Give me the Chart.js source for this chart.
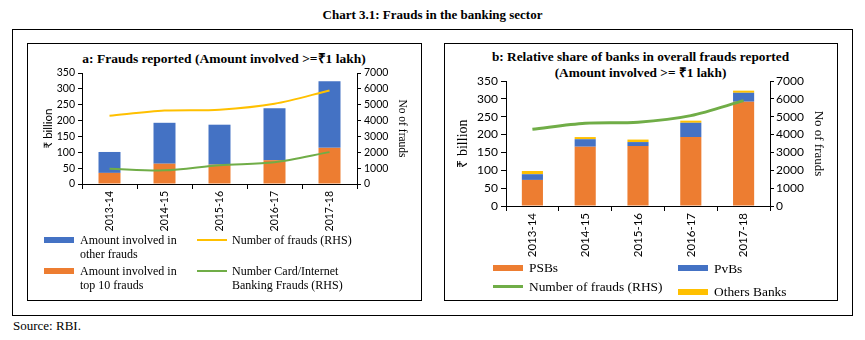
<!DOCTYPE html>
<html>
<head>
<meta charset="utf-8">
<script src="https://cdn.jsdelivr.net/npm/chart.js@4.4.1/dist/chart.umd.min.js"></script>
<style>
  body { margin: 0; width: 865px; height: 340px; background: #fff; position: relative; overflow: hidden;
         font-family: "Liberation Serif", serif; color: #000; }
  .abs { position: absolute; }
  .box { position: absolute; border: 1px solid #000; box-sizing: border-box; }
  .ttl { position: absolute; font-weight: bold; text-align: center; white-space: nowrap; }
  .lg { position: absolute; white-space: nowrap; line-height: 14px; }
  .sw { position: absolute; }
  canvas { position: absolute; }
</style>
</head>
<body>

<div class="ttl" style="left:0;width:865px;top:7px;font-size:13px;">Chart 3.1: Frauds in the banking sector</div>
<div class="box" style="left:12px;top:29px;width:841px;height:287px;"></div>
<div class="box" style="left:27px;top:43px;width:395px;height:258px;"></div>
<div class="box" style="left:444px;top:43px;width:394px;height:258px;"></div>

<div class="ttl" style="left:27px;width:394px;top:49px;font-size:13.5px;">a: Frauds reported (Amount involved &gt;=₹1 lakh)</div>
<div class="ttl" style="left:444px;width:393px;top:49px;font-size:13.3px;line-height:16px;">b: Relative share of banks in overall frauds reported<br>(Amount involved &gt;= ₹1 lakh)</div>

<canvas id="fraudsA" width="394" height="257" style="left:27px;top:43px;"></canvas>
<canvas id="fraudsB" width="393" height="257" style="left:444px;top:43px;"></canvas>

<!-- legend, panel a -->
<div class="sw" style="left:44px;top:237px;width:30px;height:6px;background:#4472C4;"></div>
<div class="lg" style="left:80px;top:233px;font-size:12px;">Amount involved in<br>other frauds</div>
<div class="sw" style="left:44px;top:268px;width:30px;height:6px;background:#ED7D31;"></div>
<div class="lg" style="left:80px;top:264px;font-size:12px;">Amount involved in<br>top 10 frauds</div>
<div class="sw" style="left:197px;top:239px;width:30px;height:2px;background:#FFC000;"></div>
<div class="lg" style="left:232px;top:233px;font-size:12px;">Number of frauds (RHS)</div>
<div class="sw" style="left:197px;top:270px;width:30px;height:2px;background:#70AD47;"></div>
<div class="lg" style="left:232px;top:264px;font-size:12px;">Number Card/Internet<br>Banking Frauds (RHS)</div>

<!-- legend, panel b -->
<div class="sw" style="left:493px;top:265px;width:30px;height:6px;background:#ED7D31;"></div>
<div class="lg" style="left:529px;top:261px;font-size:13.4px;">PSBs</div>
<div class="sw" style="left:678px;top:265px;width:30px;height:6px;background:#4472C4;"></div>
<div class="lg" style="left:714px;top:262px;font-size:13.4px;">PvBs</div>
<div class="sw" style="left:493px;top:285px;width:30px;height:3px;background:#70AD47;"></div>
<div class="lg" style="left:529px;top:280px;font-size:13.4px;">Number of frauds (RHS)</div>
<div class="sw" style="left:678px;top:289px;width:30px;height:6px;background:#FFC000;"></div>
<div class="lg" style="left:714px;top:285px;font-size:13.4px;">Others Banks</div>

<div class="abs" style="left:13px;top:318px;font-size:13px;">Source: RBI.</div>

<script>
// ---- data ----
const years = ['2013-14', '2014-15', '2015-16', '2016-17', '2017-18'];

// panel a: ₹ billion
const top10Amt = [35, 64, 61, 75, 114];
const otherAmt = [66, 129, 126, 164, 210];
// panel a: number of frauds (RHS)
const fraudCount = [4300, 4630, 4690, 5060, 5900];
const cardFrauds = [960, 860, 1190, 1370, 2010];

// panel b: ₹ billion by bank group
const psbAmt = [73, 166, 168, 193, 292];
const pvbAmt = [16, 21, 11, 40, 25];
const otherBankAmt = [9, 6, 7, 6, 6];

const amtTicks = { min: 0, max: 350, step: 50 };
const countTicks = { min: 0, max: 7000, step: 1000 };

const BLUE = '#4472C4', ORANGE = '#ED7D31', YELLOW = '#FFC000', GREEN = '#70AD47';
const SANS = 'Lato, "DejaVu Sans", sans-serif';
const SERIF = '"Liberation Serif", serif';
const plain = v => String(v);   // no thousands separator, as in the source

Chart.defaults.color = '#000';
Chart.defaults.animation = false;

// ---- panel a ----
new Chart(document.getElementById('fraudsA'), {
  type: 'bar',
  data: {
    labels: years,
    datasets: [
      { label: 'Amount involved in top 10 frauds', data: top10Amt, backgroundColor: ORANGE, yAxisID: 'y', order: 1 },
      { label: 'Amount involved in other frauds', data: otherAmt, backgroundColor: BLUE, yAxisID: 'y', order: 1 },
      { type: 'line', label: 'Number of frauds (RHS)', data: fraudCount, borderColor: YELLOW, borderWidth: 2,
        pointRadius: 0, tension: 0.3, yAxisID: 'y1', order: 0 },
      { type: 'line', label: 'Number Card/Internet Banking Frauds (RHS)', data: cardFrauds, borderColor: GREEN, borderWidth: 2,
        pointRadius: 0, tension: 0.3, yAxisID: 'y1', order: 0 }
    ]
  },
  options: {
    responsive: false,
    layout: { padding: { top: 30, left: 0, right: 0, bottom: 0 } },
    datasets: { bar: { categoryPercentage: 1, barPercentage: 0.4 } },
    plugins: { legend: { display: false }, tooltip: { enabled: false } },
    scales: {
      x: {
        stacked: true,
        grid: { offset: true, drawOnChartArea: false, tickLength: 5, color: '#000' },
        border: { color: '#000' },
        ticks: { minRotation: 90, maxRotation: 90, padding: 2, font: { family: SANS, size: 10.5 } },
        afterFit: s => { s.height = 116; }
      },
      y: {
        stacked: true, min: amtTicks.min, max: amtTicks.max,
        ticks: { stepSize: amtTicks.step, padding: 3, callback: plain, font: { family: SANS, size: 10.5 } },
        grid: { drawOnChartArea: false, tickLength: 4, color: '#000' },
        border: { color: '#000' },
        title: { display: true, text: '₹ billion', font: { family: SANS, size: 11.5 }, padding: { top: 14, bottom: 0 } },
        afterFit: s => { s.width = 55; }
      },
      y1: {
        position: 'right', min: countTicks.min, max: countTicks.max,
        ticks: { stepSize: countTicks.step, padding: 3, callback: plain, font: { family: SANS, size: 10.5 } },
        grid: { drawOnChartArea: false, tickLength: 4, color: '#000' },
        border: { color: '#000' },
        title: { display: true, text: 'No of frauds', font: { family: SERIF, size: 11.5 }, padding: { top: 12, bottom: 0 } },
        afterFit: s => { s.width = 64; }
      }
    }
  }
});

// ---- panel b ----
new Chart(document.getElementById('fraudsB'), {
  type: 'bar',
  data: {
    labels: years,
    datasets: [
      { label: 'PSBs', data: psbAmt, backgroundColor: ORANGE, yAxisID: 'y', order: 1 },
      { label: 'PvBs', data: pvbAmt, backgroundColor: BLUE, yAxisID: 'y', order: 1 },
      { label: 'Others Banks', data: otherBankAmt, backgroundColor: YELLOW, yAxisID: 'y', order: 1 },
      { type: 'line', label: 'Number of frauds (RHS)', data: fraudCount, borderColor: GREEN, borderWidth: 3,
        pointRadius: 0, tension: 0.3, yAxisID: 'y1', order: 0 }
    ]
  },
  options: {
    responsive: false,
    layout: { padding: { top: 38, left: 0, right: 0, bottom: 0 } },
    datasets: { bar: { categoryPercentage: 1, barPercentage: 0.4 } },
    plugins: { legend: { display: false }, tooltip: { enabled: false } },
    scales: {
      x: {
        stacked: true,
        grid: { offset: true, drawOnChartArea: false, tickLength: 5, color: '#000' },
        border: { color: '#000' },
        ticks: { minRotation: 90, maxRotation: 90, padding: 2, font: { family: SANS, size: 11.5 } },
        afterFit: s => { s.height = 94; }
      },
      y: {
        stacked: true, min: amtTicks.min, max: amtTicks.max,
        ticks: { stepSize: amtTicks.step, padding: 3, callback: plain, font: { family: SANS, size: 12 } },
        grid: { drawOnChartArea: false, tickLength: 5, color: '#000' },
        border: { color: '#000' },
        title: { display: true, text: '₹ billion', font: { family: SERIF, size: 14 }, padding: { top: 11, bottom: 0 } },
        afterFit: s => { s.width = 62; }
      },
      y1: {
        position: 'right', min: countTicks.min, max: countTicks.max,
        ticks: { stepSize: countTicks.step, padding: 2, callback: plain, font: { family: SANS, size: 12 } },
        grid: { drawOnChartArea: false, tickLength: 4, color: '#000' },
        border: { color: '#000' },
        title: { display: true, text: 'No of frauds', font: { family: SERIF, size: 13 }, padding: { top: 11, bottom: 0 } },
        afterFit: s => { s.width = 67; }
      }
    }
  }
});
</script>
</body>
</html>
